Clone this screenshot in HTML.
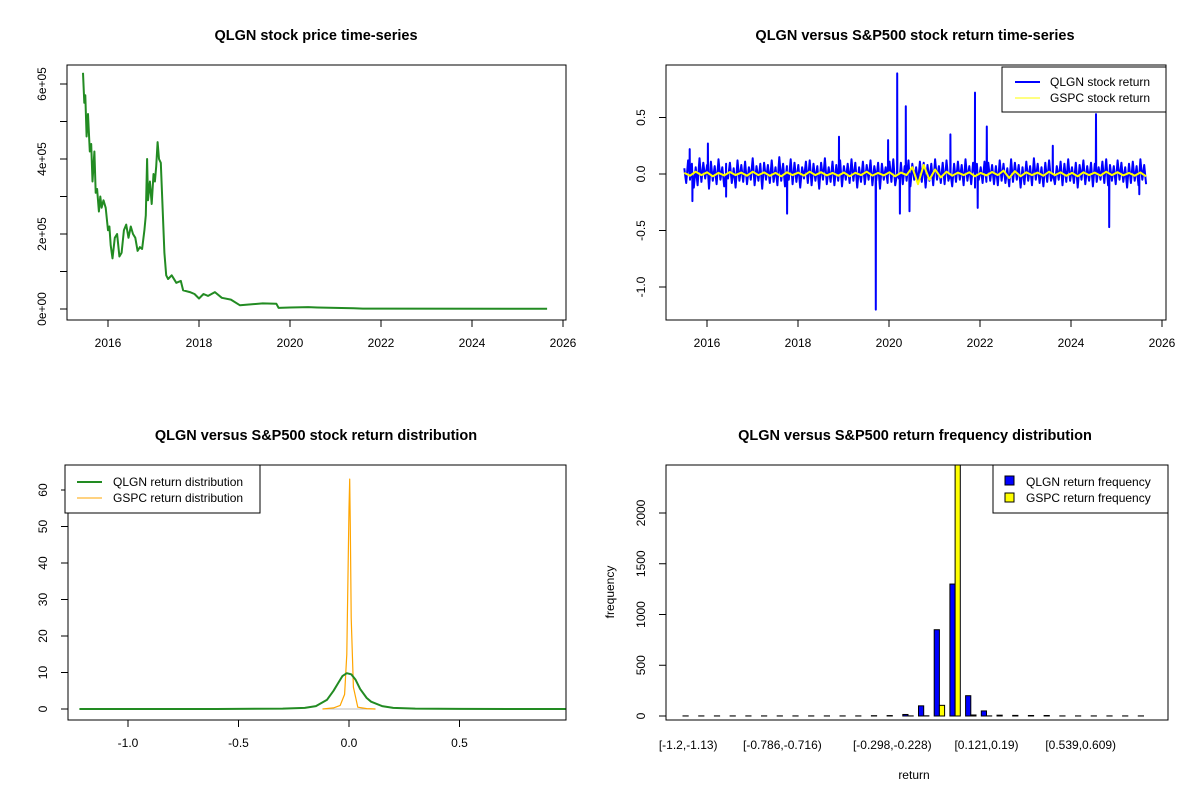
<!DOCTYPE html>
<html><head><meta charset="utf-8"><style>
body{margin:0;background:#fff}
svg{display:block;font-family:"Liberation Sans",Arial,sans-serif}
.t{font-weight:bold;font-size:14.5px}
.tk{font-size:12px}
</style></head><body>
<svg id="s" width="1200" height="800" viewBox="0 0 1200 800"></svg>
<script>
// ---------- DATA ----------
const priceDates=[2015.45,2015.48,2015.5,2015.53,2015.56,2015.6,2015.63,2015.66,2015.7,2015.73,2015.76,2015.8,2015.83,2015.86,2015.9,2015.95,2016.0,2016.03,2016.06,2016.1,2016.15,2016.2,2016.25,2016.3,2016.35,2016.4,2016.45,2016.5,2016.55,2016.6,2016.65,2016.7,2016.75,2016.8,2016.83,2016.86,2016.88,2016.92,2016.96,2017.0,2017.03,2017.06,2017.09,2017.12,2017.16,2017.2,2017.24,2017.28,2017.32,2017.4,2017.5,2017.6,2017.65,2017.8,2017.9,2018.0,2018.1,2018.2,2018.35,2018.5,2018.7,2018.9,2019.1,2019.4,2019.7,2019.75,2020.0,2020.4,2020.6,2021.0,2021.4,2021.6,2025.65];
const priceVals=[6.3,5.5,5.7,4.6,5.2,4.2,4.4,3.4,4.2,3.1,3.2,2.6,3.0,2.7,2.9,2.7,2.1,2.2,1.7,1.35,1.9,2.0,1.4,1.5,2.1,2.25,1.9,2.2,2.0,1.9,1.55,1.65,1.6,2.1,2.5,4.0,2.9,3.4,2.8,3.6,3.4,3.8,4.45,4.0,3.9,2.7,1.5,0.9,0.8,0.9,0.7,0.75,0.5,0.45,0.4,0.28,0.4,0.35,0.45,0.3,0.25,0.1,0.12,0.15,0.14,0.03,0.04,0.05,0.04,0.03,0.02,0.01,0.005];
const priceYTicks=[0,2,4,6];
const priceYLabels=["0e+00","2e+05","4e+05","6e+05"];
const yearTicks=[2016,2018,2020,2022,2024,2026];

const retStart=2015.5, retEnd=2025.65;
const qlgnRet=[0.05,-0.08,0.12,-0.05,0.09,-0.12,0.06,-0.1,0.14,-0.07,0.1,-0.04,0.08,-0.13,0.11,-0.06,0.07,-0.09,0.13,-0.05,0.06,-0.11,0.09,-0.04,0.1,-0.08,0.05,-0.12,0.12,-0.06,0.08,-0.07,0.11,-0.09,0.06,-0.05,0.14,-0.1,0.07,-0.06,0.09,-0.13,0.1,-0.05,0.08,-0.08,0.12,-0.07,0.06,-0.1,0.15,-0.06,0.09,-0.11,0.07,-0.05,0.13,-0.09,0.1,-0.07,0.08,-0.12,0.06,-0.04,0.11,-0.08,0.12,-0.1,0.09,-0.06,0.07,-0.13,0.1,-0.05,0.14,-0.09,0.06,-0.07,0.11,-0.1,0.08,-0.06,0.12,-0.11,0.07,-0.05,0.09,-0.08,0.13,-0.06,0.1,-0.12,0.06,-0.07,0.11,-0.09,0.08,-0.05,0.12,-0.1,0.07,-0.06,0.1,-0.13,0.09,-0.05,0.06,-0.08,0.11,-0.07,0.13,-0.1,0.08,-0.04,0.1,-0.09,0.07,-0.06,0.12,-0.11,0.09,-0.05,0.06,-0.08,0.11,-0.07,0.1,-0.12,0.08,-0.06,0.09,-0.1,0.13,-0.05,0.07,-0.08,0.1,-0.09,0.12,-0.06,0.06,-0.11,0.09,-0.07,0.11,-0.05,0.08,-0.1,0.13,-0.06,0.07,-0.09,0.1,-0.12,0.09,-0.05,0.06,-0.08,0.11,-0.07,0.1,-0.06,0.08,-0.09,
0.07,-0.1,0.12,-0.06,0.09,-0.08,0.05,-0.11,0.13,-0.07,0.1,-0.05,0.08,-0.12,0.06,-0.09,0.11,-0.06,0.07,-0.1,0.14,-0.05,0.09,-0.08,0.06,-0.11,0.1,-0.07,0.12,-0.06,0.08,-0.09,0.07,-0.05,0.11,-0.1,0.09,-0.07,0.13,-0.06,0.06,-0.08,0.1,-0.12,0.08,-0.05,0.12,-0.09,0.07,-0.06,0.1,-0.11,0.09,-0.07,0.06,-0.05,0.11,-0.08,0.13,-0.1,0.08,-0.06,0.07,-0.09,0.12,-0.05,0.1,-0.07,0.06,-0.12,0.09,-0.08,0.11,-0.06,0.07,-0.1,0.13,-0.05,0.08,-0.09];
const spikeDates=[2015.62,2015.68,2016.02,2016.42,2017.76,2018.9,2019.71,2019.98,2020.18,2020.24,2020.37,2020.45,2021.35,2021.89,2021.95,2022.15,2023.6,2024.55,2024.84,2025.5];
const spikeVals=[0.22,-0.24,0.27,-0.2,-0.35,0.33,-1.2,0.3,0.89,-0.35,0.6,-0.33,0.35,0.72,-0.3,0.42,0.25,0.53,-0.47,-0.18];
const gspcRet=[0.01,-0.015,0.02,-0.01,0.015,-0.02,0.01,-0.012,0.018,-0.01,0.012,-0.015,0.02,-0.01,0.014,-0.016,0.01,-0.02,0.015,-0.01,0.012,-0.014,0.02,-0.01,0.016,-0.012,0.01,-0.015,0.013,-0.02,0.011,-0.01,0.02,-0.014,0.01,-0.012,0.015,-0.02,0.012,-0.01,0.06,-0.09,0.08,-0.05,0.04,-0.03,0.02,-0.015,0.012,-0.01,0.015,-0.02,0.01,-0.012,0.018,-0.01,0.03,-0.035,0.025,-0.02,0.015,-0.01,0.012,-0.015,0.02,-0.01,0.014,-0.016,0.01,-0.02,0.015,-0.01,0.012,-0.014,0.02,-0.01,0.016,-0.012,0.01,-0.015,0.013,-0.02];
const retYTicks=[-1.0,-0.5,0.0,0.5];

const densQX=[-1.22,-0.6,-0.3,-0.2,-0.15,-0.1,-0.07,-0.05,-0.03,-0.01,0.01,0.03,0.05,0.08,0.1,0.15,0.2,0.3,0.5,0.98];
const densQY=[0,0.01,0.1,0.3,0.8,2.5,5,7,9,9.8,9.5,8,5.5,3,2,0.8,0.3,0.1,0.02,0];
const densGX=[-0.12,-0.07,-0.04,-0.02,-0.01,-0.005,0,0.003,0.006,0.01,0.02,0.04,0.08,0.12];
const densGY=[0,0.3,1,4,15,35,55,63,50,25,6,0.5,0.1,0];
const densXTicks=[-1.0,-0.5,0.0,0.5];
const densYTicks=[0,10,20,30,40,50,60];

const binCount=30;
const qlgnFreq=[1,1,1,1,1,1,1,1,1,1,1,1,3,4,15,100,850,1300,200,50,8,6,5,5,1,1,1,1,1,1];
const gspcFreq=[0,0,0,0,0,0,0,0,0,0,0,0,0,0,1,2,105,2500,10,1,0,0,0,0,0,0,0,0,0,0];
const binLabels=["[-1.2,-1.13)","[-0.786,-0.716)","[-0.298,-0.228)","[0.121,0.19)","[0.539,0.609)"];
const binLabelIdx=[0,6,13,19,25];
const freqYTicks=[0,500,1000,1500,2000];

// ---------- HELPERS ----------
const S=document.getElementById('s');const NS='http://www.w3.org/2000/svg';
function mk(tag,a,txt){const e=document.createElementNS(NS,tag);for(const k in a)e.setAttribute(k,a[k]);if(txt!==undefined)e.textContent=txt;S.appendChild(e);return e;}
function box(x1,y1,x2,y2){return mk('rect',{x:x1,y:y1,width:x2-x1,height:y2-y1,fill:'none',stroke:'#000','stroke-width':1});}
function xtick(x,y,lab){mk('line',{x1:x,y1:y,x2:x,y2:y+7,stroke:'#000'});if(lab!==null)mk('text',{x:x,y:y+27,'text-anchor':'middle',class:'tk'},lab);}
function ytick(x,y,lab){mk('line',{x1:x,y1:y,x2:x-7,y2:y,stroke:'#000'});if(lab!==null)mk('text',{x:x-21,y:y,'text-anchor':'middle',class:'tk',transform:`rotate(-90 ${x-21} ${y})`},lab);}
function poly(xs,ys,col,w){const p=xs.map((x,i)=>x.toFixed(1)+','+ys[i].toFixed(1)).join(' ');return mk('polyline',{points:p,fill:'none',stroke:col,'stroke-width':w,'stroke-linejoin':'round'});}

// ---------- PANEL 1 ----------
const t1=mk('text',{x:316,y:40,'text-anchor':'middle',class:'t'},'QLGN stock price time-series');

const sx1=t=>108+(t-2016)*45.5, sy1=v=>309-v*37.5;
const b1=box(67,65,566,320);
mk('line',{x1:67,y1:sy1(0),x2:67,y2:sy1(6),stroke:'#000'});
for(let v=0;v<=6;v++){const i=priceYTicks.indexOf(v);ytick(67,sy1(v),i>=0?priceYLabels[i]:null);}
mk('line',{x1:sx1(2016),y1:320,x2:sx1(2026),y2:320,stroke:'#000'});
yearTicks.forEach(y=>xtick(sx1(y),320,String(y)));
const pl=poly(priceDates.map(sx1),priceVals.map(sy1),'#228B22',2);


// ---------- PANEL 2 ----------
const t2=mk('text',{x:915,y:40,'text-anchor':'middle',class:'t'},'QLGN versus S&P500 stock return time-series');

const sx2=t=>707+(t-2016)*45.5, sy2=v=>174-v*113;
const b2=box(666,65,1166,320);
mk('line',{x1:666,y1:sy2(-1),x2:666,y2:sy2(0.5),stroke:'#000'});
retYTicks.forEach(v=>ytick(666,sy2(v),v.toFixed(1)));
mk('line',{x1:sx2(2016),y1:320,x2:sx2(2026),y2:320,stroke:'#000'});
yearTicks.forEach(y=>xtick(sx2(y),320,String(y)));
let pts=qlgnRet.map((v,i)=>[retStart+(retEnd-retStart)*i/(qlgnRet.length-1),v]);
spikeDates.forEach((d,i)=>{pts.push([d-0.004,0]);pts.push([d,spikeVals[i]]);pts.push([d+0.004,0]);});
pts.sort((a,b)=>a[0]-b[0]);
const ql=poly(pts.map(p=>sx2(p[0])),pts.map(p=>sy2(p[1])),'#0000FF',2);

const gx=gspcRet.map((v,i)=>sx2(retStart+(retEnd-retStart)*i/(gspcRet.length-1)));
const gl=poly(gx,gspcRet.map(sy2),'#FFFF00',2);

const lg2=mk('rect',{x:1002,y:67,width:164,height:45,fill:'#fff',stroke:'#000'});

mk('line',{x1:1015,y1:82,x2:1040,y2:82,stroke:'#0000FF','stroke-width':2});
mk('text',{x:1050,y:86,class:'tk'},'QLGN stock return');
mk('line',{x1:1015,y1:98,x2:1040,y2:98,stroke:'#FFFF00','stroke-width':1});
mk('text',{x:1050,y:102,class:'tk'},'GSPC stock return');

// ---------- PANEL 3 ----------
const t3=mk('text',{x:316,y:440,'text-anchor':'middle',class:'t'},'QLGN versus S&P500 stock return distribution');

const sx3=x=>349+x*221, sy3=v=>709-v*3.65;
const b3=box(68,465,566,720);
mk('line',{x1:68,y1:sy3(0),x2:68,y2:sy3(60),stroke:'#000'});
densYTicks.forEach(v=>ytick(68,sy3(v),String(v)));
mk('line',{x1:sx3(-1),y1:720,x2:sx3(0.5),y2:720,stroke:'#000'});
densXTicks.forEach(v=>xtick(sx3(v),720,v.toFixed(1)));
mk('line',{x1:sx3(-0.12),y1:sy3(0),x2:sx3(0.12),y2:sy3(0),stroke:'#bebebe','stroke-width':1});
const gd=poly(densGX.map(sx3),densGY.map(sy3),'#FFA500',1.2);

const qd=poly(densQX.map(sx3),densQY.map(sy3),'#228B22',2);

const lg3=mk('rect',{x:65,y:465,width:195,height:48,fill:'#fff',stroke:'#000'});

mk('line',{x1:77,y1:482,x2:102,y2:482,stroke:'#228B22','stroke-width':2});
mk('text',{x:113,y:486,class:'tk'},'QLGN return distribution');
mk('line',{x1:77,y1:498,x2:102,y2:498,stroke:'#FFA500','stroke-width':1});
mk('text',{x:113,y:502,class:'tk'},'GSPC return distribution');

// ---------- PANEL 4 ----------
const t4=mk('text',{x:915,y:440,'text-anchor':'middle',class:'t'},'QLGN versus S&P500 return frequency distribution');

const pitch=15.7,bw=5.2,gx0=683;
const sy4=v=>716-v*0.1015;
mk('defs',{}).innerHTML='<clipPath id="c4"><rect x="666" y="465" width="500" height="255"/></clipPath>';
const g4=mk('g',{'clip-path':'url(#c4)'});

for(let k=0;k<binCount;k++){
  const x=gx0+pitch*k;
  const rb=document.createElementNS(NS,'rect');
  rb.setAttribute('x',x);rb.setAttribute('y',sy4(qlgnFreq[k]));rb.setAttribute('width',bw);rb.setAttribute('height',Math.max(0,sy4(0)-sy4(qlgnFreq[k])));
  rb.setAttribute('fill','#0000FF');rb.setAttribute('stroke','#000');
  
  
  g4.appendChild(rb);
  const ry=document.createElementNS(NS,'rect');
  ry.setAttribute('x',x+bw);ry.setAttribute('y',sy4(gspcFreq[k]));ry.setAttribute('width',bw);ry.setAttribute('height',Math.max(0,sy4(0)-sy4(gspcFreq[k])));
  ry.setAttribute('fill','#FFFF00');ry.setAttribute('stroke','#000');
  
  
  g4.appendChild(ry);
}
const b4=box(666,465,1168,720);
mk('line',{x1:666,y1:sy4(0),x2:666,y2:sy4(2000),stroke:'#000'});
freqYTicks.forEach(v=>ytick(666,sy4(v),String(v)));
binLabelIdx.forEach((k,i)=>mk('text',{x:gx0+pitch*k+bw,y:749,'text-anchor':'middle',class:'tk'},binLabels[i]));
mk('text',{x:914,y:779,'text-anchor':'middle',class:'tk'},'return');
mk('text',{x:614,y:592,'text-anchor':'middle',class:'tk',transform:'rotate(-90 614 592)'},'frequency');
const lg4=mk('rect',{x:993,y:465,width:175,height:48,fill:'#fff',stroke:'#000'});

mk('rect',{x:1005,y:476,width:9,height:9,fill:'#0000FF',stroke:'#000'});
mk('text',{x:1026,y:486,class:'tk'},'QLGN return frequency');
mk('rect',{x:1005,y:493,width:9,height:9,fill:'#FFFF00',stroke:'#000'});
mk('text',{x:1026,y:502,class:'tk'},'GSPC return frequency');
</script>
</body></html>
